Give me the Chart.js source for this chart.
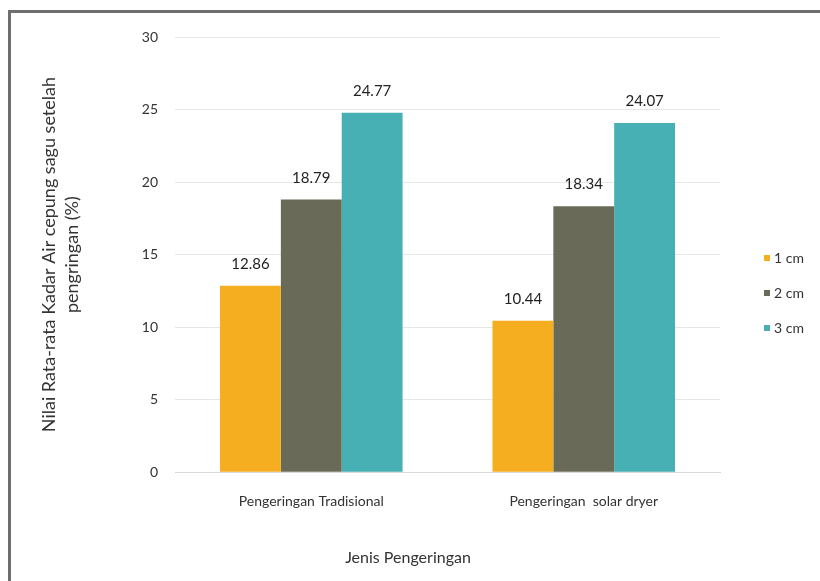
<!DOCTYPE html>
<html>
<head>
<meta charset="utf-8">
<script src="https://cdn.jsdelivr.net/npm/chart.js@4"></script>
<style>
  body { margin: 0; background: #fff; }
  #wrap { position: relative; width: 820px; height: 581px; overflow: hidden; }
  #frame {
    position: absolute; left: 8px; top: 10px; width: 812px; height: 571px;
    border-top: 3px solid #6e6e6e; border-left: 3px solid #6e6e6e; box-sizing: border-box;
  }
  canvas { position: absolute; left: 0; top: 0; }
  #legend { position: absolute; left: 764px; top: 249px; font: 14px Lato, sans-serif; color: #333; }
  #legend div { height: 35px; line-height: 18px; white-space: nowrap; }
  #legend span { display: inline-block; width: 6px; height: 6px; margin-right: 4px; vertical-align: 2px; }
</style>
</head>
<body>
<div id="wrap">
  <div id="frame"></div>
  <canvas id="myChart" width="820" height="581"></canvas>
  <div id="legend"></div>
</div>
<script>
// values
const categories = ["Pengeringan Tradisional", "Pengeringan  solar dryer"];
const seriesNames = ["1 cm", "2 cm", "3 cm"];
const values1cm = [12.86, 10.44];
const values2cm = [18.79, 18.34];
const values3cm = [24.77, 24.07];
const yTicks = [0, 5, 10, 15, 20, 25, 30];
const xTitle = "Jenis Pengeringan";

const colors = ["#f4ae1f", "#6a6a59", "#46b0b4"];
const allValues = [values1cm, values2cm, values3cm];

// writes the number above each bar
const valueLabels = {
  id: "valueLabels",
  afterDatasetsDraw(chart) {
    const ctx = chart.ctx;
    ctx.save();
    ctx.font = "15px Lato, sans-serif";
    ctx.fillStyle = "#222";
    ctx.textAlign = "center";
    ctx.textBaseline = "bottom";
    chart.data.datasets.forEach((ds, i) => {
      chart.getDatasetMeta(i).data.forEach((bar, j) => {
        ctx.fillText(ds.data[j].toFixed(2), bar.x, bar.y - 14);
      });
    });
    ctx.restore();
  }
};

// x title sits in the middle of the whole picture, not of the plot
const bottomTitle = {
  id: "bottomTitle",
  afterDraw(chart) {
    const ctx = chart.ctx;
    ctx.save();
    ctx.font = "16px Lato, sans-serif";
    ctx.fillStyle = "#333";
    ctx.textAlign = "center";
    ctx.textBaseline = "middle";
    ctx.fillText(xTitle, chart.width / 2 - 2, chart.chartArea.bottom + 86);
    ctx.restore();
  }
};

const data = {
  labels: categories,
  datasets: seriesNames.map((name, i) => ({
    label: name,
    data: allValues[i],
    backgroundColor: colors[i],
    borderWidth: 0,
    categoryPercentage: 0.67,
    barPercentage: 1.0
  }))
};

const chart = new Chart(document.querySelector("#myChart"), {
  type: "bar",
  data: data,
  options: {
    responsive: false,
    animation: false,
    layout: { padding: { left: 33, right: 100, top: 37, bottom: 50 } },
    plugins: {
      legend: { display: false },
      tooltip: { enabled: false }
    },
    scales: {
      x: {
        grid: { display: false, drawTicks: false },
        border: { color: "#d9d9d9" },
        ticks: { color: "#333", padding: 21, font: { family: "Lato", size: 14 } }
      },
      y: {
        min: 0,
        max: 30,
        afterBuildTicks: (axis) => { axis.ticks = yTicks.map((v) => ({ value: v })); },
        grid: { color: "#e6e6e6", drawTicks: false },
        border: { display: false },
        ticks: { color: "#333", padding: 17, font: { family: "Lato", size: 14 } },
        title: {
          display: true,
          text: ["Nilai Rata-rata Kadar Air cepung sagu setelah", "pengringan (%)"],
          color: "#333",
          font: { family: "Lato", size: 18, lineHeight: 1.3 },
          padding: { top: 4, bottom: 41 }
        }
      }
    }
  },
  plugins: [valueLabels, bottomTitle]
});

// legend as plain html
const legend = document.querySelector("#legend");
seriesNames.forEach((name, i) => {
  legend.innerHTML += `<div><span style="background:${colors[i]}"></span>${name}</div>`;
});
</script>
</body>
</html>
